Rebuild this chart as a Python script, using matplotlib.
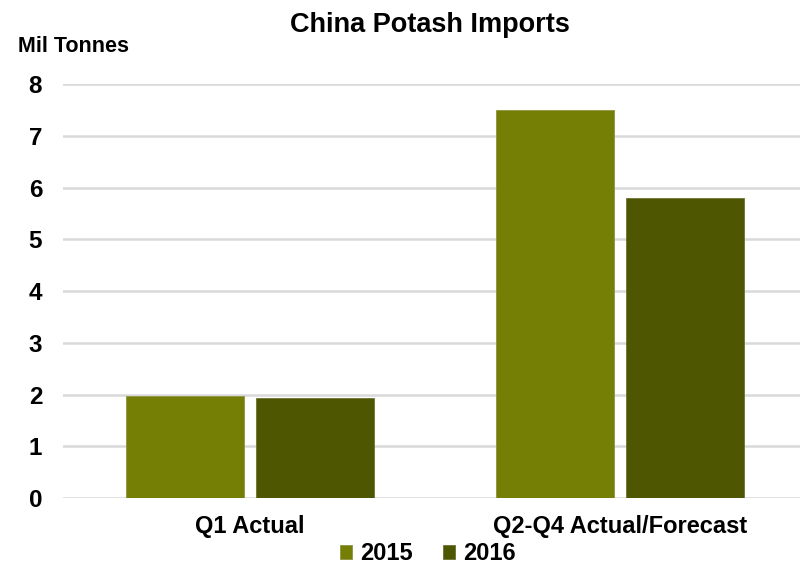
import matplotlib
matplotlib.use("Agg")
import matplotlib.pyplot as plt
import numpy as np

categories = ["Q1 Actual", "Q2-Q4 Actual/Forecast"]
series_names = ["2015", "2016"]
values_2015 = [1.98, 7.50]
values_2016 = [1.94, 5.80]
yticks = [0, 1, 2, 3, 4, 5, 6, 7, 8]

plt.rcParams['font.family'] = ['Liberation Sans', 'DejaVu Sans']
plt.rcParams['font.weight'] = 'bold'

fig = plt.figure(figsize=(8, 5.66), dpi=100)
ax = fig.add_axes([63/800, (566-498)/566, (800-63)/800, (498-84)/566])

x = np.arange(len(categories))
w = 0.32
c15 = "#767f05"
c16 = "#4e5602"
ax.bar(x - 0.176, values_2015, w, color=c15, edgecolor="#8c9440", linewidth=0.6, label=series_names[0], zorder=3)
ax.bar(x + 0.176, values_2016, w, color=c16, edgecolor="#6b7230", linewidth=0.6, label=series_names[1], zorder=3)

ax.set_ylim(0, 8)
ax.set_xlim(-0.505, 1.486)
ax.set_yticks(yticks)
ax.set_yticklabels([str(v) for v in yticks], fontsize=17.5, fontweight='bold')
ax.set_xticks(x)
ax.set_xticklabels(categories, fontsize=17, fontweight='bold')
ax.tick_params(axis='both', length=0)
ax.tick_params(axis='y', pad=15)
ax.tick_params(axis='x', pad=12)
ax.yaxis.grid(True, color="#d9d9d9", linewidth=1.8, zorder=0)
ax.set_axisbelow(True)
for s in ax.spines.values():
    s.set_visible(False)

fig.text(430/800, 1 - 25/566, "China Potash Imports", ha='center', va='center', fontsize=19.5, fontweight='bold')
fig.text(18/800, 1 - 46/566, "Mil Tonnes", ha='left', va='center', fontsize=15.5, fontweight='bold')

leg = fig.legend(loc='center', bbox_to_anchor=(428/800, 1 - 554/566), ncol=2, frameon=False,
                 fontsize=17, handlelength=0.5, handleheight=0.5, handletextpad=0.35, columnspacing=1.3)
for t in leg.get_texts():
    t.set_fontweight('bold')

fig.savefig("out.png", dpi=100)
